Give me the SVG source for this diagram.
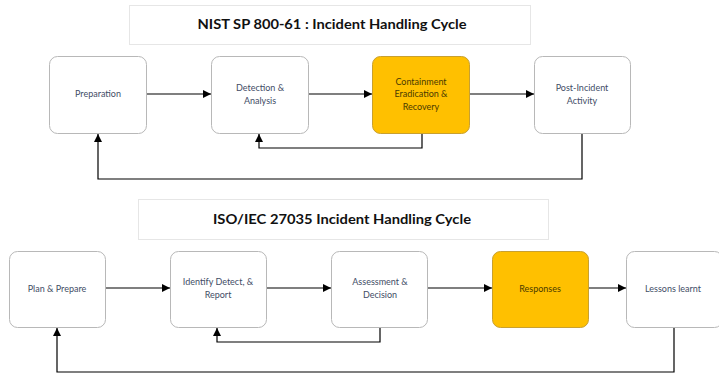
<svg xmlns="http://www.w3.org/2000/svg" width="719" height="373" viewBox="0 0 719 373">
<defs>
<marker id="ah" viewBox="0 0 10 10" refX="10" refY="5" markerWidth="8" markerHeight="8" markerUnits="userSpaceOnUse" orient="auto"><path d="M0,0 L10,5 L0,10 Z" fill="#000"/></marker>
<style>
.title{fill:#fff;stroke:#e6e6e6;stroke-width:1}
.tt{font-family:Lato,"Liberation Sans",sans-serif;font-weight:bold;font-size:14px;fill:#111;text-anchor:middle}
.node{fill:#fff;stroke:#b8b8b8;stroke-width:1}
.gold{fill:#FFC000;stroke:#c8a030;stroke-width:1}
.lbl{font-family:Lato,"Liberation Sans",sans-serif;font-size:9px;fill:#3f4d66;text-anchor:middle}
.lblg{font-family:Lato,"Liberation Sans",sans-serif;font-size:9px;fill:#4a3a00;text-anchor:middle}
.c{fill:none;stroke:#000;stroke-width:1.2}
</style>
</defs>
<rect width="719" height="373" fill="#fff"/>
<g id="title1"><rect class="title" x="129.5" y="5.5" width="401" height="39"/><text class="tt" x="332" y="29" textLength="269" lengthAdjust="spacingAndGlyphs">NIST SP 800-61 : Incident Handling Cycle</text></g>
<g id="title2"><rect class="title" x="138.5" y="199.5" width="410" height="40"/><text class="tt" x="342" y="224" textLength="258" lengthAdjust="spacingAndGlyphs">ISO/IEC 27035 Incident Handling Cycle</text></g>

<g id="preparation"><rect class="node" x="49.5" y="56.5" width="97" height="77" rx="8"/><text class="lbl" x="98" y="97">Preparation</text></g>
<g id="detection"><rect class="node" x="211.5" y="56.5" width="97" height="77" rx="8"/><text class="lbl" x="260" y="91">Detection &amp;</text><text class="lbl" x="260" y="104">Analysis</text></g>
<g id="containment"><rect class="gold" x="372.5" y="56.5" width="97" height="77" rx="8"/><text class="lblg" x="421" y="85">Containment</text><text class="lblg" x="421" y="97">Eradication &amp;</text><text class="lblg" x="421" y="110">Recovery</text></g>
<g id="postincident"><rect class="node" x="534.5" y="56.5" width="96" height="77" rx="8"/><text class="lbl" x="582" y="91">Post-Incident</text><text class="lbl" x="582" y="104">Activity</text></g>

<g id="plan"><rect class="node" x="9.5" y="251.5" width="96" height="76" rx="8"/><text class="lbl" x="57" y="292">Plan &amp; Prepare</text></g>
<g id="identify"><rect class="node" x="170.5" y="251.5" width="96" height="76" rx="8"/><text class="lbl" x="218" y="285">Identify Detect, &amp;</text><text class="lbl" x="218" y="298">Report</text></g>
<g id="assessment"><rect class="node" x="331.5" y="251.5" width="96" height="76" rx="8"/><text class="lbl" x="380" y="285">Assessment &amp;</text><text class="lbl" x="380" y="298">Decision</text></g>
<g id="responses"><rect class="gold" x="492.5" y="251.5" width="96" height="76" rx="8"/><text class="lblg" x="540" y="292">Responses</text></g>
<g id="lessons"><rect class="node" x="626.5" y="251.5" width="96" height="76" rx="8"/><text class="lbl" x="673" y="292">Lessons learnt</text></g>

<g id="connectors">
<path class="c" d="M147,94 H211" marker-end="url(#ah)"/>
<path class="c" d="M309,94 H372" marker-end="url(#ah)"/>
<path class="c" d="M470,94 H534" marker-end="url(#ah)"/>
<path class="c" d="M422,134 V148 H259 V134" marker-end="url(#ah)"/>
<path class="c" d="M582,134 V179 H98 V134" marker-end="url(#ah)"/>
<path class="c" d="M106,288 H170" marker-end="url(#ah)"/>
<path class="c" d="M267,288 H331" marker-end="url(#ah)"/>
<path class="c" d="M428,288 H492" marker-end="url(#ah)"/>
<path class="c" d="M589,288 H626" marker-end="url(#ah)"/>
<path class="c" d="M380,328 V342 H217 V328" marker-end="url(#ah)"/>
<path class="c" d="M674,328 V372 H57 V328" marker-end="url(#ah)"/>
</g>
</svg>
